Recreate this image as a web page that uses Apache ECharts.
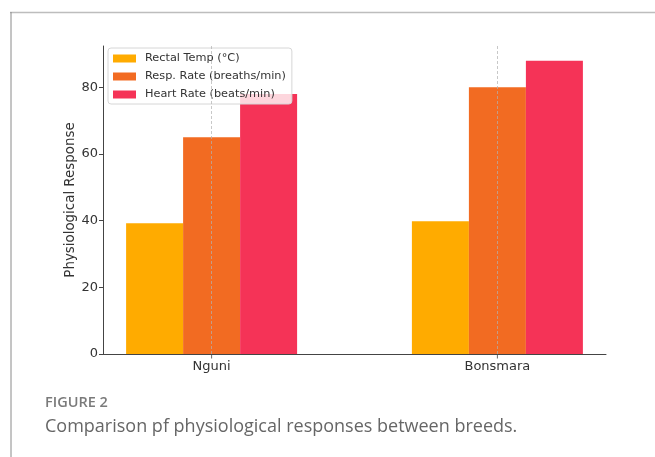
<!DOCTYPE html>
<html>
<head>
<meta charset="utf-8">
<script src="https://cdn.jsdelivr.net/npm/echarts@6/dist/echarts.min.js"></script>
<style>
  html, body { margin: 0; padding: 0; background: #fff; }
  #chart { width: 655px; height: 457px; }
</style>
</head>
<body>
<div id="chart"></div>
<script>
const categories = ['Nguni', 'Bonsmara'];
const seriesNames = ['Rectal Temp (°C)', 'Resp. Rate (breaths/min)', 'Heart Rate (beats/min)'];
const rectalTemp = [39.2, 39.8];
const respRate = [65, 80];
const heartRate = [78, 88];
const yTicks = [0, 20, 40, 60, 80];
const colors = ['#FFAB00', '#F26B22', '#F53357'];

const chart = echarts.init(document.getElementById('chart'), null, { renderer: 'canvas' });
const valuesList = [rectalTemp, respRate, heartRate];
const catPositions = categories.map((c, i) => i);

const series = seriesNames.map((name, s) => ({
  name: name,
  type: 'bar',
  barWidth: 57,
  barGap: '0%',
  data: valuesList[s].map((v, i) => [i, v]),
  itemStyle: { color: colors[s] },
  z: 2
}));

// helper series: x ticks + vertical gridlines at category positions
series.push({
  name: '_ticks',
  type: 'scatter',
  data: catPositions.map(p => [p, 0]),
  symbol: 'rect',
  symbolSize: [1, 4],
  symbolOffset: [0, 2.5],
  itemStyle: { color: '#444' },
  clip: false,
  silent: true,
  z: 6,
  markLine: {
    silent: true,
    symbol: 'none',
    label: { show: false },
    lineStyle: { color: 'rgba(176,176,176,0.7)', type: [3, 2], width: 1 },
    data: catPositions.map(p => ({ xAxis: p })),
    z: 5
  }
});

chart.setOption({
  animation: false,
  textStyle: { fontFamily: 'DejaVu Sans' },
  grid: { left: 103, right: 49, top: 46, bottom: 103, containLabel: false },
  legend: {
    data: seriesNames,
    orient: 'vertical',
    left: 108,
    top: 48,
    icon: 'rect',
    itemWidth: 23,
    itemHeight: 8,
    itemGap: 7,
    padding: [5, 6, 4, 5],
    backgroundColor: 'rgba(255,255,255,0.8)',
    borderColor: '#d6d6d6',
    borderWidth: 1,
    borderRadius: 3,
    textStyle: { fontFamily: 'DejaVu Sans', fontSize: 11.3, color: '#333', padding: [0, 0, 0, 4] }
  },
  xAxis: {
    type: 'value',
    min: -0.38,
    max: 1.38,
    axisLine: { show: true, onZero: false, lineStyle: { color: '#444', width: 1 } },
    axisTick: { show: false },
    axisLabel: {
      customValues: catPositions,
      formatter: v => categories[Math.round(v)],
      fontFamily: 'DejaVu Sans', fontSize: 13, color: '#333', margin: 6
    },
    splitLine: { show: false }
  },
  yAxis: {
    type: 'value',
    min: 0,
    max: 92.4,
    name: 'Physiological Response',
    nameLocation: 'middle',
    nameGap: 26,
    nameMoveOverlap: false,
    nameTextStyle: { fontFamily: 'DejaVu Sans', fontSize: 13.4, color: '#333' },
    axisLine: { show: true, onZero: false, lineStyle: { color: '#444', width: 1 } },
    axisTick: { show: true, customValues: yTicks, length: 4, lineStyle: { color: '#444' } },
    axisLabel: { customValues: yTicks, fontFamily: 'DejaVu Sans', fontSize: 13, color: '#333', margin: 5 },
    splitLine: { show: false }
  },
  series: series,
  graphic: [
    { type: 'line', shape: { x1: 10, y1: 12.5, x2: 655, y2: 12.5 }, style: { stroke: '#bdbdbd', lineWidth: 1.5 }, silent: true },
    { type: 'line', shape: { x1: 11, y1: 12, x2: 11, y2: 457 }, style: { stroke: '#8a8a8a', lineWidth: 1 }, silent: true },
    { type: 'text', left: 45, top: 395, style: { text: 'FIGURE 2', fontFamily: 'Open Sans', fontSize: 14.5, fontWeight: 600, fill: '#7a7a7a' } },
    { type: 'text', left: 45, top: 418, style: { text: 'Comparison pf physiological responses between breeds.', fontFamily: 'Open Sans', fontSize: 18, fill: '#666' } }
  ]
});
</script>
</body>
</html>
